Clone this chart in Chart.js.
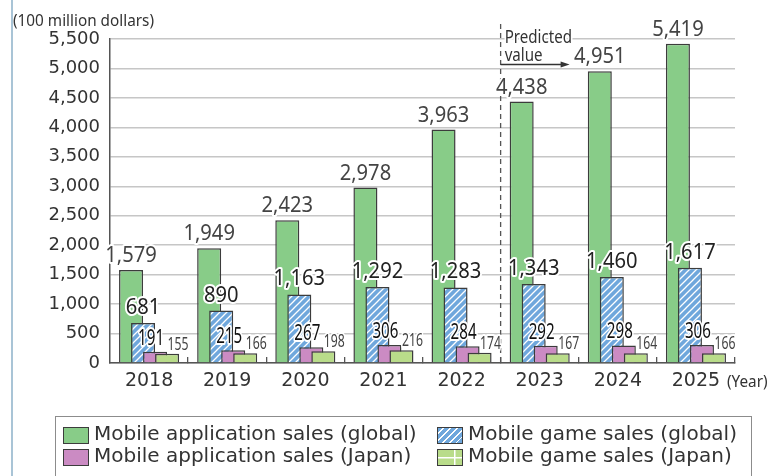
<!DOCTYPE html>
<html lang="en">
<head>
    <meta charset="UTF-8">
    <title>Mobile application and game sales</title>
    <script src="https://cdn.jsdelivr.net/npm/chart.js"></script>
    <style>
        body { margin: 0; background: #fff; }
        #wrap { position: relative; width: 768px; height: 476px; overflow: hidden; }
        #frame { position: absolute; left: 11px; top: 0; width: 1.5px; height: 476px; background: #a9c4d6; }
        #legend { position: absolute; left: 55px; top: 416px; width: 697px; height: 80px;
                  border: 1.5px solid #8c8c8c; box-sizing: border-box;
                  font: 20px "DejaVu Sans"; color: #333; }
        .item { position: absolute; height: 16px; line-height: 16px; white-space: nowrap; }
        .sw { position: absolute; left: 0; top: 0; width: 24px; height: 15px; border: 1px solid #3c3c3c; }
        .item span { position: absolute; left: 31px; top: -2px; }
    </style>
</head>
<body>
<div id="wrap">
    <canvas id="c" width="768" height="476"></canvas>
    <div id="frame"></div>
    <div id="legend"></div>
</div>

<script>
// values in 100 million dollars
const years = ['2018', '2019', '2020', '2021', '2022', '2023', '2024', '2025'];
const appGlobal = [1579, 1949, 2423, 2978, 3963, 4438, 4951, 5419];
const gameGlobal = [681, 890, 1163, 1292, 1283, 1343, 1460, 1617];
const appJapan = [191, 215, 267, 306, 284, 292, 298, 306];
const gameJapan = [155, 166, 198, 216, 174, 167, 164, 166];
const seriesNames = [
    'Mobile application sales (global)',
    'Mobile game sales (global)',
    'Mobile application sales (Japan)',
    'Mobile game sales (Japan)'
];
const firstPredicted = 5; // 2023 onward are predictions

const canvas = document.getElementById('c');
const ctx = canvas.getContext('2d');

// blue bars: white "/" hatching
function hatchPattern() {
    const t = document.createElement('canvas');
    t.width = 7; t.height = 7;
    const g = t.getContext('2d');
    g.fillStyle = '#6fa7dc';
    g.fillRect(0, 0, 7, 7);
    g.strokeStyle = '#fff';
    g.lineWidth = 1.3;
    g.beginPath();
    g.moveTo(-1, 8); g.lineTo(8, -1);
    g.moveTo(-1, 1); g.lineTo(1, -1);
    g.moveTo(6, 8); g.lineTo(8, 6);
    g.stroke();
    return ctx.createPattern(t, 'repeat');
}

// lime bars: sparse white grid
function gridPattern() {
    const t = document.createElement('canvas');
    t.width = 26; t.height = 26;
    const g = t.getContext('2d');
    g.fillStyle = '#b9dc8a';
    g.fillRect(0, 0, 26, 26);
    g.fillStyle = '#fff';
    g.fillRect(22.5, 0, 1.5, 26);
    g.fillRect(0, 7.5, 26, 1.5);
    return ctx.createPattern(t, 'repeat');
}

const fills = ['#88cc88', hatchPattern(), '#cb8bc3', gridPattern()];

// how each series' value labels are written
const labelStyle = [
    { font: '21px "Noto Sans"', sx: 0.96, dx: 0, dy: 8, color: '#444' },
    { font: '21px "Noto Sans"', sx: 0.96, dx: 0, dy: 9, color: '#222' },
    { font: '21px "Noto Sans"', sx: 0.72, dx: -4, dy: 7, color: '#111' },
    { font: '18px "Noto Sans"', sx: 0.68, dx: 11, dy: 4, color: '#444' }
];

function haloText(text, x, y, font, sx, color, align) {
    ctx.save();
    ctx.translate(x, y);
    ctx.scale(sx, 1);
    ctx.font = font;
    ctx.textAlign = align || 'center';
    ctx.textBaseline = 'alphabetic';
    ctx.lineJoin = 'round';
    ctx.lineWidth = 4;
    ctx.strokeStyle = '#fff';
    ctx.strokeText(text, 0, 0);
    ctx.fillStyle = color;
    ctx.fillText(text, 0, 0);
    ctx.restore();
}

const extras = {
    id: 'extras',
    beforeDatasetsDraw(chart) {
        const x = chart.scales.x;
        const px = (x.getPixelForValue(firstPredicted - 1) + x.getPixelForValue(firstPredicted)) / 2;
        ctx.save();
        ctx.strokeStyle = '#555';
        ctx.lineWidth = 1.3;
        ctx.setLineDash([5, 4]);
        ctx.beginPath();
        ctx.moveTo(px, 24);
        ctx.lineTo(px, chart.chartArea.bottom);
        ctx.stroke();
        ctx.restore();
    },
    // Chart.js paints the first dataset on top; here the later series overlap the earlier ones
    beforeDatasetDraw() {
        return false;
    },
    afterDatasetsDraw(chart) {
        chart.data.datasets.forEach((ds, i) => chart.getDatasetMeta(i).controller.draw());

        chart.data.datasets.forEach((ds, i) => {
            const st = labelStyle[i];
            chart.getDatasetMeta(i).data.forEach((bar, j) => {
                haloText(ds.data[j].toLocaleString('en-US'), bar.x + st.dx, bar.y - st.dy, st.font, st.sx, st.color);
            });
        });

        const x = chart.scales.x;
        const px = (x.getPixelForValue(firstPredicted - 1) + x.getPixelForValue(firstPredicted)) / 2;
        haloText('Predicted', px + 4, 43, '18px "Noto Sans"', 0.84, '#333', 'left');
        haloText('value', px + 4, 61, '18px "Noto Sans"', 0.84, '#333', 'left');
        ctx.save();
        ctx.strokeStyle = '#333';
        ctx.fillStyle = '#333';
        ctx.lineWidth = 1.3;
        ctx.beginPath();
        ctx.moveTo(px, 64.5);
        ctx.lineTo(px + 62, 64.5);
        ctx.stroke();
        ctx.beginPath();
        ctx.moveTo(px + 69, 64.5);
        ctx.lineTo(px + 60, 61.5);
        ctx.lineTo(px + 60, 67.5);
        ctx.closePath();
        ctx.fill();
        ctx.restore();
    },
    afterDraw(chart) {
        haloText('(100 million dollars)', 13, 26, '17px "Noto Sans"', 0.9, '#333', 'left');
        haloText('(Year)', 727, 387, '17px "Noto Sans"', 0.9, '#333', 'left');
    }
};

new Chart(canvas, {
    type: 'bar',
    data: {
        labels: years,
        datasets: [appGlobal, gameGlobal, appJapan, gameJapan].map((d, i) => ({
            label: seriesNames[i],
            data: d,
            backgroundColor: fills[i],
            borderColor: '#3c3c3c',
            borderWidth: 1.5,
            categoryPercentage: 0.615,
            barPercentage: 2
        }))
    },
    options: {
        responsive: false,
        animation: false,
        devicePixelRatio: 1,
        layout: { padding: { left: 0, right: 33, top: 39, bottom: 83 } },
        plugins: { legend: { display: false }, tooltip: { enabled: false } },
        scales: {
            x: {
                ticks: { color: '#333', padding: 13, font: { family: 'DejaVu Sans', size: 19 } },
                grid: {
                    offset: true,
                    drawOnChartArea: false,
                    tickLength: -6,
                    lineWidth: 1.3,
                    color: c => (c.index === 0 || c.index === years.length) ? 'rgba(0,0,0,0)' : '#555'
                },
                border: { color: '#555', width: 1.5 },
                afterFit(s) { s.height = 30; }
            },
            y: {
                min: 0,
                max: 5500,
                ticks: {
                    stepSize: 500,
                    padding: 10,
                    color: '#333',
                    font: { family: 'DejaVu Sans', size: 18 },
                    callback: v => v.toLocaleString('en-US')
                },
                grid: { color: '#c6c6c6', lineWidth: 1.5, drawTicks: false },
                border: { color: '#555', width: 1.5 },
                afterFit(s) { s.width = 110; }
            }
        }
    },
    plugins: [extras]
});

// legend in two columns, boxed, under the plot
const swatchCss = [
    'background:#88cc88',
    'background:repeating-linear-gradient(135deg,#6fa7dc 0 3.5px,#fff 3.5px 4.8px)',
    'background:#cb8bc3',
    'background:linear-gradient(#fff,#fff) 0 6.5px/100% 1.5px no-repeat,linear-gradient(#fff,#fff) 16px 0/1.5px 100% no-repeat,#b9dc8a'
];
const legendPos = [[7, 10], [381, 10], [7, 32], [381, 32]];
const legend = document.getElementById('legend');
[0, 1, 2, 3].forEach(i => {
    const it = document.createElement('div');
    it.className = 'item';
    it.style.left = legendPos[i][0] + 'px';
    it.style.top = legendPos[i][1] + 'px';
    it.innerHTML = '<div class="sw" style="' + swatchCss[i] + '"></div><span>' + seriesNames[i] + '</span>';
    legend.appendChild(it);
});
</script>
</body>
</html>
